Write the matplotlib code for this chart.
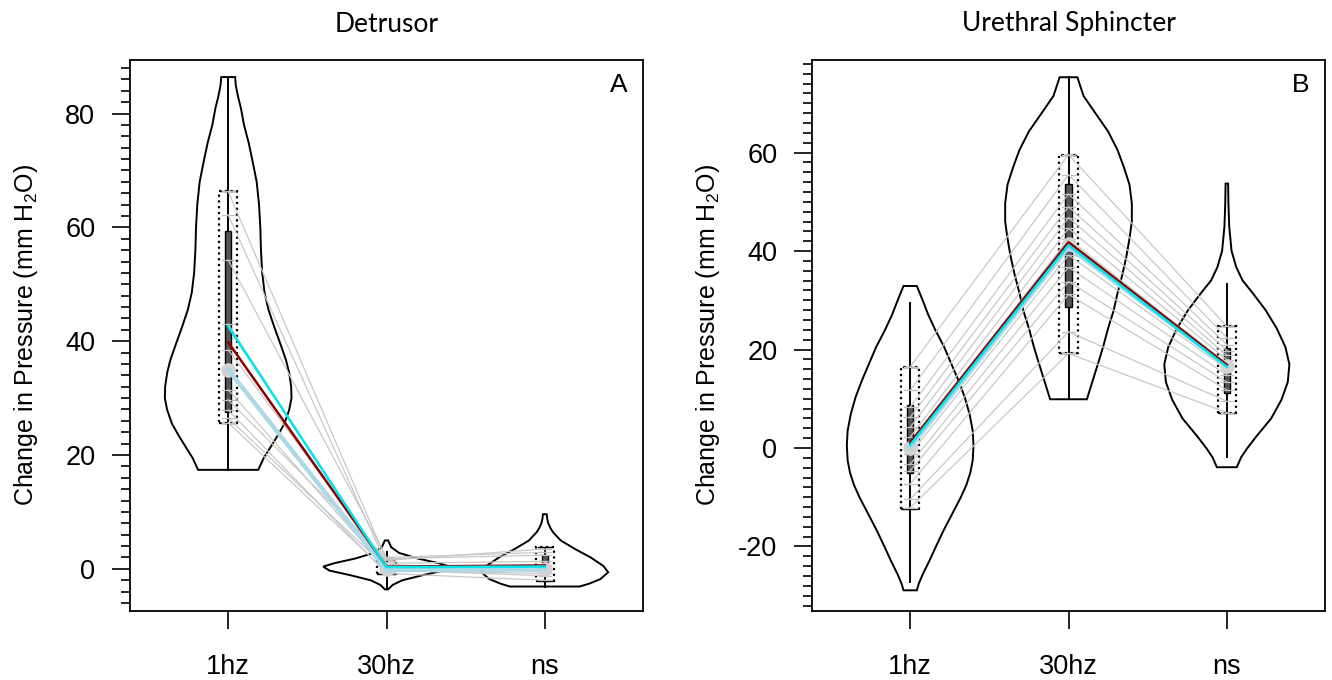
import matplotlib
matplotlib.use("Agg")
import matplotlib.pyplot as plt
from matplotlib.patches import Rectangle
from matplotlib.ticker import MultipleLocator

plt.rcParams['font.family'] = ['Liberation Sans', 'DejaVu Sans']
plt.rcParams['mathtext.default'] = 'regular'
plt.rcParams['axes.unicode_minus'] = False

# ---- data ----
groups = ['1hz', '30hz', 'ns']

# Detrusor (panel A): one value per animal for each stimulus
a_1hz = [66.3, 62.2, 54.3, 43.0, 38.5, 35.0, 31.5, 29.7, 27.9, 26.5, 25.7]
a_30hz = [1.5, 0.8, 2.0, -0.2, 1.0, -0.3, 0.0, 1.8, -0.8, 0.2, -0.5]
a_ns = [3.5, -0.5, 2.9, -1.2, 1.3, -0.8, 0.4, 2.4, -2.0, 0.0, 0.6]
a_mean = [39.8, 0.4, 0.6]      # dark red line
a_cyan = [42.6, 0.3, 0.4]      # cyan line
a_median = [35.0, -0.2, -0.1]  # light blue line
a_dot = [35.0, 0.0, 0.0]
a_iqr = [(27.6, 59.3), (-0.4, 1.0), (-0.5, 2.5)]
a_range = [(25.7, 66.3), (-0.9, 1.6), (-2.2, 3.9)]
a_whisk = [(17.4, 86.4), (-3.4, 3.0), (-3.1, 3.7)]
# violin outlines: levels and half widths
a_vlev = [
    [86.4, 85.0, 83.0, 81.0, 78.0, 74.8, 71.5, 68.0, 64.0, 60.0, 56.0, 52.0, 48.5,
     45.5, 42.6, 39.5, 36.7, 34.5, 32.0, 30.0, 27.9, 25.5, 23.3, 21.5, 19.5, 17.4],
    [5.0, 3.8, 2.8, 1.8, 1.0, 0.4, -0.3, -1.1, -2.0, -2.8, -3.6],
    [9.6, 8.8, 8.0, 7.2, 6.5, 5.0, 3.5, 2.0, 0.5, -0.6, -1.8, -2.6, -3.1],
]
a_vhw = [
    [0.044, 0.048, 0.062, 0.08, 0.10, 0.13, 0.155, 0.18, 0.195, 0.203, 0.207, 0.215,
     0.23, 0.255, 0.29, 0.33, 0.365, 0.385, 0.398, 0.40, 0.385, 0.355, 0.31, 0.27,
     0.225, 0.19],
    [0.01, 0.03, 0.08, 0.20, 0.33, 0.40, 0.36, 0.23, 0.10, 0.04, 0.01],
    [0.012, 0.015, 0.022, 0.035, 0.05, 0.10, 0.19, 0.29, 0.37, 0.40, 0.35, 0.28, 0.22],
]

# Urethral sphincter (panel B)
b_1hz = [16.5, 11.7, 8.3, 6.2, 4.2, 2.2, 0.8, -1.2, -3.3, -4.6, -7.3, -10.4, -12.1]
b_30hz = [59.6, 55.5, 51.6, 49.0, 46.8, 44.6, 42.5, 39.2, 36.7, 33.8, 31.2, 23.6, 19.2]
b_ns = [24.7, 22.4, 21.0, 19.8, 18.8, 17.9, 17.0, 16.0, 14.8, 13.4, 11.8, 9.5, 7.2]
b_mean = [1.1, 41.8, 16.9]
b_cyan = [0.6, 41.2, 16.5]
b_median = [0.1, 40.8, 16.7]
b_dot = [0.1, 41.4, 16.7]
b_iqr = [(-5.0, 8.8), (28.7, 53.7), (11.2, 20.3)]
b_range = [(-12.4, 16.5), (19.2, 59.6), (7.2, 24.7)]
b_whisk = [(-27.3, 29.4), (9.9, 75.3), (-1.9, 33.3)]
b_vlev = [
    [32.9, 31.5, 29.5, 27.0, 23.9, 20.5, 17.1, 13.7, 10.3, 6.9, 3.5, 0.5, -2.5, -5.0,
     -7.5, -10.0, -13.4, -16.8, -20.2, -23.0, -25.6, -27.5, -28.9],
    [75.3, 71.5, 68.0, 64.3, 60.5, 57.0, 53.5, 49.7, 46.0, 42.5, 38.8, 35.2,
     31.5, 27.9, 24.3, 20.7, 17.0, 13.4, 9.9],
    [53.7, 49.7, 45.0, 40.0, 36.7, 34.0, 31.6, 28.0, 24.3, 20.5, 17.0, 13.4, 9.8,
     6.0, 2.5, 0.0, -1.9, -3.9],
]
b_vhw = [
    [0.042, 0.06, 0.085, 0.115, 0.16, 0.215, 0.26, 0.305, 0.345, 0.375, 0.395, 0.40,
     0.395, 0.38, 0.355, 0.32, 0.265, 0.21, 0.16, 0.12, 0.08, 0.055, 0.042],
    [0.056, 0.095, 0.17, 0.25, 0.31, 0.35, 0.385, 0.40, 0.40, 0.385, 0.365, 0.34,
     0.31, 0.285, 0.25, 0.22, 0.185, 0.15, 0.116],
    [0.008, 0.01, 0.015, 0.03, 0.06, 0.10, 0.16, 0.245, 0.315, 0.37, 0.395, 0.385,
     0.345, 0.28, 0.19, 0.13, 0.09, 0.063],
]


def draw_panel(ax, subj, vlev, vhw, whisk, iqr, rng, dot, med, mean, cyan, ylim, ticks):
    pos = [1, 2, 3]
    # violins
    for p, lev, hw in zip(pos, vlev, vhw):
        xs = [p + w for w in hw] + [p - w for w in hw[::-1]]
        ys = list(lev) + list(lev[::-1])
        ax.fill(xs, ys, facecolor='white', edgecolor='black', lw=1.4, zorder=1)
    # centre line, box, dotted range
    for p, (lo, hi) in zip(pos, whisk):
        ax.plot([p, p], [lo, hi], color='black', lw=1.4, zorder=2)
    for p, (lo, hi) in zip(pos, iqr):
        ax.add_patch(Rectangle((p - 0.02, lo), 0.04, hi - lo, facecolor='#555555',
                               edgecolor='black', lw=1, zorder=3))
    for p, (lo, hi) in zip(pos, rng):
        ax.add_patch(Rectangle((p - 0.057, lo), 0.114, hi - lo, fill=False,
                               edgecolor='black', lw=1.6, ls=(0, (1, 1.6)), zorder=3))
        ax.plot([p - 0.045, p + 0.045], [lo, lo], color='black', lw=1, zorder=3)
        ax.plot([p - 0.045, p + 0.045], [hi, hi], color='black', lw=1, zorder=3)
    # one grey line per animal
    for k in range(len(subj[0])):
        vals = [subj[0][k], subj[1][k], subj[2][k]]
        ax.plot(pos, vals, color='#c8c8c8', lw=0.9, zorder=4)
        for p, v in zip(pos, vals):
            ax.plot([p - 0.04, p + 0.04], [v, v], color='#c0c0c0', lw=0.9, zorder=4)
    ax.plot(pos, dot, 'o', color='#d3d3d3', ms=9.5, zorder=5)
    ax.plot(pos, med, color='#add8e6', lw=3.2, zorder=6)
    ax.plot(pos, mean, color='#8b0000', lw=1.8, zorder=7)
    ax.plot(pos, cyan, color='#00e5ee', lw=1.8, zorder=8)

    ax.set_xlim(0.38, 3.62)
    ax.set_ylim(*ylim)
    ax.set_xticks(pos)
    ax.set_xticklabels(groups)
    ax.set_yticks(ticks)
    ax.yaxis.set_minor_locator(MultipleLocator(2))
    ax.tick_params(axis='both', which='major', length=13, width=1.2, labelsize=19.5)
    ax.tick_params(axis='y', which='major', pad=12)
    ax.tick_params(axis='x', which='major', pad=18)
    ax.tick_params(axis='y', which='minor', length=6.5, width=1.2)
    for s in ax.spines.values():
        s.set_linewidth(1.3)
    ax.set_ylabel('Change in Pressure (mm H$_2$O)', fontsize=18)
    ax.yaxis.set_label_coords(-0.175, 0.5)


fig = plt.figure(figsize=(13.32, 6.8), dpi=100)
axA = fig.add_axes([130 / 1332, 1 - 611 / 680, 513 / 1332, 551 / 680])
axB = fig.add_axes([812 / 1332, 1 - 611 / 680, 513 / 1332, 551 / 680])

draw_panel(axA, [a_1hz, a_30hz, a_ns], a_vlev, a_vhw, a_whisk, a_iqr, a_range,
           a_dot, a_median, a_mean, a_cyan, (-7.4, 89.4), [0, 20, 40, 60, 80])
draw_panel(axB, [b_1hz, b_30hz, b_ns], b_vlev, b_vhw, b_whisk, b_iqr, b_range,
           b_dot, b_median, b_mean, b_cyan, (-33.1, 78.8), [-20, 0, 20, 40, 60])

axA.text(0.952, 0.955, 'A', transform=axA.transAxes, ha='center', va='center', fontsize=19)
axB.text(0.952, 0.955, 'B', transform=axB.transAxes, ha='center', va='center', fontsize=19)

fig.text((130 + 643) / 2 / 1332, 1 - 24 / 680, 'Detrusor', ha='center', va='center',
         fontsize=19, family=['Lato', 'DejaVu Sans'])
fig.text((812 + 1325) / 2 / 1332, 1 - 24 / 680, 'Urethral Sphincter', ha='center',
         va='center', fontsize=19, family=['Lato', 'DejaVu Sans'])

fig.savefig('out.png', dpi=100)
